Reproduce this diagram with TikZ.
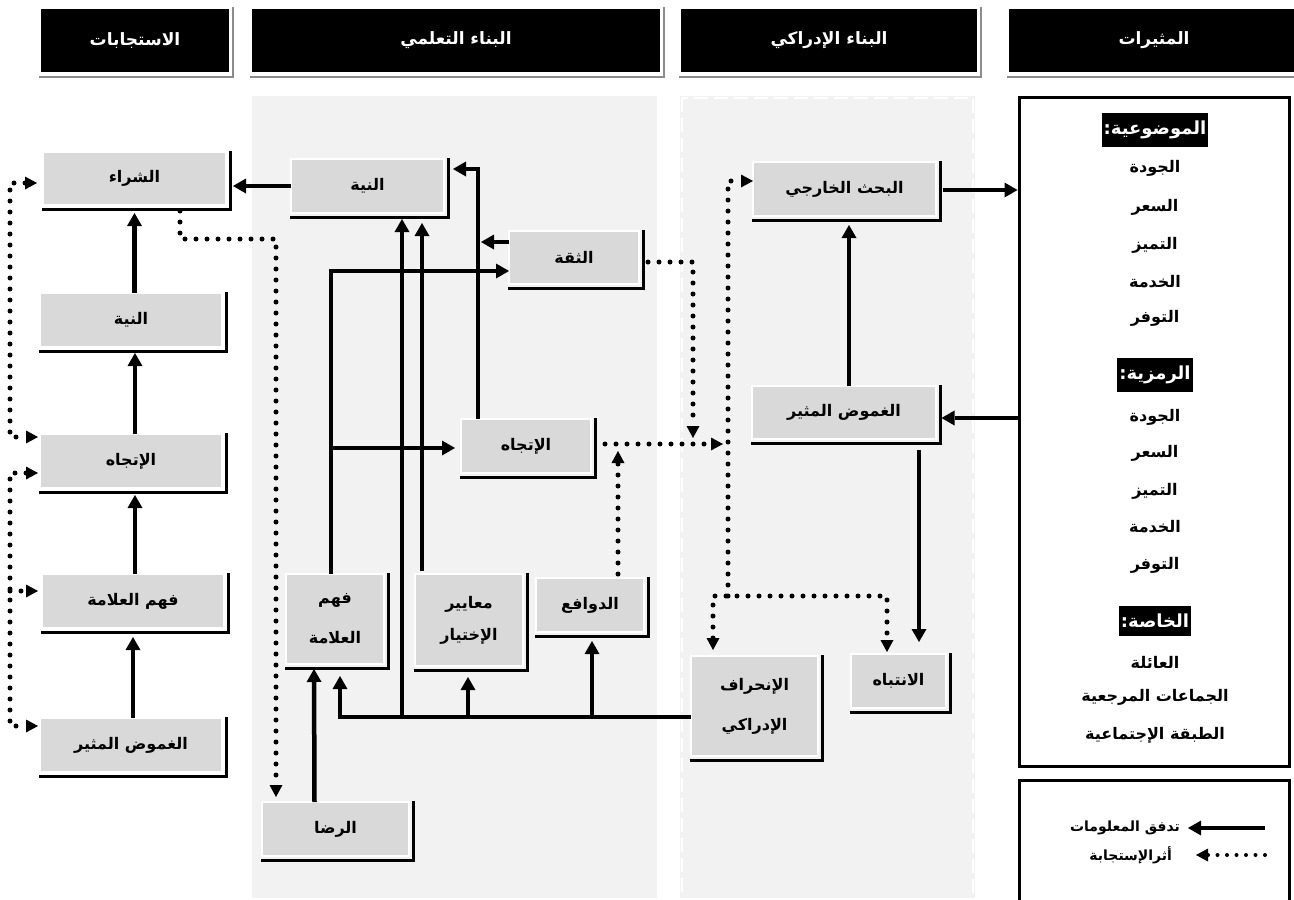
\documentclass[tikz,border=0pt]{standalone}
\usepackage{fontspec}
\usetikzlibrary{arrows.meta,calc}
\TeXXeTstate=1
\newfontfamily\arabicfont[Script=Arabic]{DejaVu Sans}
\newcommand{\artxt}[1]{\beginR #1\endR}
\definecolor{panelgrey}{HTML}{F2F2F2}
\definecolor{boxgrey}{HTML}{D9D9D9}
\definecolor{shadegrey}{HTML}{8C8C8C}

\begin{document}
\begin{tikzpicture}[x=1pt,y=-1pt,
  every node/.style={inner sep=0pt, outer sep=0pt},
  ar/.style={font=\arabicfont\bfseries\fontsize{16}{24}\selectfont},
  gbox/.style={ar, fill=boxgrey, draw=white, line width=2.5pt, align=center},
  hbox/.style={fill=black, text=white, font=\arabicfont\bfseries\fontsize{17}{22}\selectfont},
  hshade/.style={draw=shadegrey, line width=2.5pt},
  sline/.style={draw=black, line width=3pt},
  flow/.style={line width=4.5pt, -{Triangle[length=13pt,width=15pt,line width=0pt]}},
  dotline/.style={line width=5pt, line cap=round, dash pattern=on 0pt off 11pt},
  dotflow/.style={dotline, -{Triangle[length=12pt,width=13pt,line width=0pt]}},
  dotboth/.style={dotline, {Triangle[length=12pt,width=13pt,line width=0pt]}-{Triangle[length=12pt,width=13pt,line width=0pt]}},
  stimtxt/.style={font=\arabicfont\bfseries\fontsize{16}{22}\selectfont},
  stimhead/.style={fill=black, text=white, inner xsep=2pt, inner ysep=8pt, font=\arabicfont\bfseries\fontsize{18}{22}\selectfont},
  legtxt/.style={font=\arabicfont\bfseries\fontsize{14}{18}\selectfont},
]
\useasboundingbox (0,0) rectangle (1294,900);
\fill[white] (0,0) rectangle (1294,900);

% column backgrounds
\fill[panelgrey] (252,96) rectangle (657,898);
\fill[panelgrey] (680,96) rectangle (975,898);
\draw[white, line width=2pt, dash pattern=on 14pt off 6pt] (682,98) rectangle (973,900);

% column headers
\node[hbox, minimum width=188pt, minimum height=63pt] (h1) at (135,40.5) {\artxt{الاستجابات}};
\node[hbox, minimum width=408pt, minimum height=63pt] (h2) at (456,40.5) {\artxt{البناء التعلمي}};
\node[hbox, minimum width=296pt, minimum height=63pt] (h3) at (829,40.5) {\artxt{البناء الإدراكي}};
\node[hbox, minimum width=290pt, minimum height=63pt] (h4) at (1154,40.5) {\artxt{المثيرات}};
\foreach \n in {h1,h2,h3,h4}
  \draw[hshade] ($(\n.north east)+(4,-2)$) |- ($(\n.south west)+(-2,5)$);

% responses column
\node[gbox, minimum width=183pt, minimum height=53pt] (r1) at (134.5,178.5) {\artxt{الشراء}};
\node[gbox, minimum width=182pt, minimum height=54pt] (r2) at (131,320) {\artxt{النية}};
\node[gbox, minimum width=182pt, minimum height=54pt] (r3) at (131,461) {\artxt{الإتجاه}};
\node[gbox, minimum width=182pt, minimum height=54pt] (r4) at (133,601) {\artxt{فهم العلامة}};
\node[gbox, minimum width=182pt, minimum height=54pt] (r5) at (131,745) {\artxt{الغموض المثير}};

% learning constructs
\node[gbox, minimum width=153pt, minimum height=54pt] (l1) at (367.5,186) {\artxt{النية}};
\node[gbox, minimum width=130pt, minimum height=53pt] (l2) at (574,257.5) {\artxt{الثقة}};
\node[gbox, minimum width=130pt, minimum height=54pt] (l3) at (526,446) {\artxt{الإتجاه}};
\node[gbox, minimum width=98pt, minimum height=90pt] (l4) at (335,619) {\artxt{فهم}\\[16pt]\artxt{العلامة}};
\node[gbox, minimum width=108pt, minimum height=92pt] (l5) at (469,620) {\artxt{معايير}\\[8pt]\artxt{الإختيار}};
\node[gbox, minimum width=108pt, minimum height=54pt] (l6) at (590,605) {\artxt{الدوافع}};
\node[gbox, minimum width=147pt, minimum height=54pt] (l7) at (335.5,829) {\artxt{الرضا}};

% perceptual constructs
\node[gbox, minimum width=183pt, minimum height=54pt] (p1) at (844.5,189) {\artxt{البحث الخارجي}};
\node[gbox, minimum width=184pt, minimum height=53pt] (p2) at (844,412.5) {\artxt{الغموض المثير}};
\node[gbox, minimum width=127pt, minimum height=100pt] (p3) at (754.5,706) {\artxt{الإنحراف}\\[16pt]\artxt{الإدراكي}};
\node[gbox, minimum width=95pt, minimum height=54pt] (p4) at (898.5,681) {\artxt{الانتباه}};

\foreach \n in {r1,r2,r3,r4,r5,l1,l2,l3,l4,l5,l6,l7,p1,p2,p3,p4}
  \draw[sline] ($(\n.north east)+(4,-1)$) |- ($(\n.south west)+(-1,4)$);

% stimuli
\node[draw=black, line width=3pt, minimum width=270pt, minimum height=669pt] (stim) at (1154,431.5) {};
\node[stimhead] (s1) at (1155,130) {\artxt{الموضوعية:}};
\node[stimtxt] (s2) at (1155,168) {\artxt{الجودة}};
\node[stimtxt] (s3) at (1155,207) {\artxt{السعر}};
\node[stimtxt] (s4) at (1155,245) {\artxt{التميز}};
\node[stimtxt] (s5) at (1155,282) {\artxt{الخدمة}};
\node[stimtxt] (s6) at (1155,318) {\artxt{التوفر}};
\node[stimhead] (s7) at (1155,375) {\artxt{الرمزية:}};
\node[stimtxt] (s8) at (1155,417) {\artxt{الجودة}};
\node[stimtxt] (s9) at (1155,453) {\artxt{السعر}};
\node[stimtxt] (s10) at (1155,491) {\artxt{التميز}};
\node[stimtxt] (s11) at (1155,527) {\artxt{الخدمة}};
\node[stimtxt] (s12) at (1155,565) {\artxt{التوفر}};
\node[stimhead] (s13) at (1155,621) {\artxt{الخاصة:}};
\node[stimtxt] (s14) at (1155,662) {\artxt{العائلة}};
\node[stimtxt] (s15) at (1155,697) {\artxt{الجماعات المرجعية}};
\node[stimtxt] (s16) at (1155,735) {\artxt{الطبقة الإجتماعية}};

% junctions on connectors
\coordinate (jA) at (481,242);
\coordinate (jB) at (331,448);
\coordinate (jb1) at (402,717);
\coordinate (jb2) at (468,717);
\coordinate (jb3) at (592,717);
\coordinate (fbj) at (10,591);
\coordinate (dm) at (693,438);
\coordinate (dj) at (723,444);
\coordinate (du) at (618,451);
\coordinate (dv) at (728,596);

% information flow
\draw[flow] (l1.west) -- ($(l1.west -| r1.east)+(7,0)$);
\draw[flow] (r1.south |- r2.north) -- ($(r1.south)+(0,8)$);
\draw[flow] ($(r3.north)+(4,0)$) -- ($(r2.south)+(4,6)$);
\draw[flow] ($(r4.north)+(2,0)$) -- ($(r3.south)+(4,7)$);
\draw[flow] ($(r5.north)+(2,0)$) -- ($(r4.south)+(0,9)$);
\draw[flow] ($(l3.north west)+(17,0)$) |- ($(l1.east)+(9,-17)$);
\draw[flow] ($(l2.west)+(0,-15.5)$) -- (jA);
\draw[flow] ($(l4.north west)+(45,0)$) |- ($(l2.west)+(0,13.5)$);
\draw[flow] (jB) -- ($(l3.west)+(-6,2)$);
\draw[flow] ($(p3.west)+(0,11)$) -| ($(l4.south west)+(54,12)$);
\draw[flow] (jb1) -- ($(l1.south)+(34.5,6)$);
\draw[flow] ($(l5.north west)+(7,-3)$) -- ($(l1.south)+(54.5,10)$);
\draw[flow] (jb2) -- ($(l5.south west)+(53,11)$);
\draw[flow] (jb3) -- ($(l6.south west)+(56,9)$);
\draw[flow] ($(l7.north)+(-21,0)$) -- ($(l4.south)+(-21,5)$);
\draw[flow] ($(p2.north)+(5,0)$) -- ($(p1.south)+(4.5,9)$);
\draw[flow] ($(p1.east)+(7,1)$) -- ($(p1.east -| stim.west)+(-1.5,1)$);
\draw[flow] ($(p2.east -| stim.west)+(-1.5,5.5)$) -- ($(p2.east)+(5.5,5.5)$);
\draw[flow] ($(p2.south)+(75,11)$) -- ($(p4.north)+(20.5,-12)$);

% response feedback
\draw[dotboth] ($(r1.west)+(-6,4.5)$) -- ++(-27,0) |- ($(r3.north west)+(-2,3)$);
\draw[dotboth] ($(r3.west)+(-2,12)$) -- ++(-28,0) |- ($(r5.west)+(-2,-19)$);
\draw[dotflow] (fbj) -- ($(r4.west)+(-4,-10)$);
\draw[dotflow] ($(r1.south)+(45.5,6)$) -- ++(0,28) -| ($(l7.north west)+(14,-5)$);
\draw[dotflow] ($(l2.east)+(9,4.5)$) -| (dm);
\draw[dotflow] ($(l3.east)+(14,-2)$) -- (dj);
\draw[dotflow] ($(l6.north)+(28,-4)$) -- (du);
\draw[dotflow] (dv) |- ($(p1.west)+(0,-8)$);
\draw[dotboth] ($(p3.north west)+(22,-6)$) -- ++(0,-54) -| ($(p4.north west)+(36,-2)$);

% legend
\draw[line width=3pt] (1019,905) |- (1289,780) -- (1289,905);
\coordinate (lg1s) at (1265,828);
\coordinate (lg1e) at (1188,828);
\coordinate (lg2s) at (1265,855);
\coordinate (lg2e) at (1196,855);
\draw[flow, line width=4pt] (lg1s) -- (lg1e);
\draw[dotflow, line width=4pt, dash pattern=on 0pt off 9.5pt] (lg2s) -- (lg2e);
\node[legtxt, anchor=east] (lgt1) at (1180,828) {\artxt{تدفق المعلومات}};
\node[legtxt, anchor=east] (lgt2) at (1172,855) {\artxt{أثرالإستجابة}};
\end{tikzpicture}
\end{document}
